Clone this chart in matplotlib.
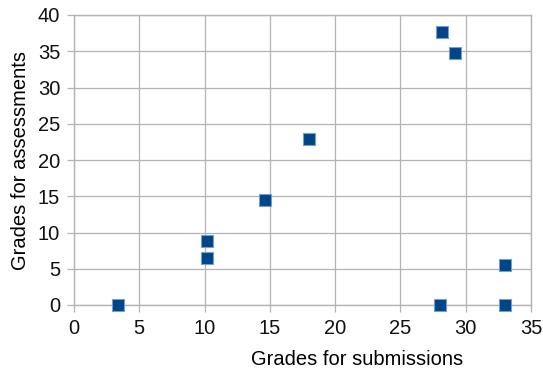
import matplotlib.pyplot as plt

# grades
submissions = [3.4, 10.2, 10.2, 14.6, 18.0, 28.2, 29.2, 28.0, 33.0, 33.0]
assessments = [0.0, 8.8, 6.5, 14.5, 22.9, 37.6, 34.8, 0.0, 5.5, 0.0]

x_ticks = [0, 5, 10, 15, 20, 25, 30, 35]
y_ticks = [0, 5, 10, 15, 20, 25, 30, 35, 40]

GRID = "#b3b3b3"
MARKER = "#004586"

plt.rcParams["font.family"] = ["Liberation Sans", "DejaVu Sans"]

fig = plt.figure(figsize=(5.43, 3.74), dpi=100, facecolor="white")
ax = fig.add_axes([74 / 543, 1 - 305 / 374, 457 / 543, 290 / 374])

ax.scatter(submissions, assessments, marker="s", s=85, c=MARKER,
           edgecolors="#729fcf", linewidths=0.8, zorder=3, clip_on=False)

ax.set_xlim(0, 35)
ax.set_ylim(0, 40)
ax.set_xticks(x_ticks)
ax.set_yticks(y_ticks)
ax.grid(True, color=GRID, lw=0.9)
ax.set_axisbelow(True)
for sp in ax.spines.values():
    sp.set_color(GRID)
    sp.set_linewidth(1.0)
ax.tick_params(colors=GRID, labelcolor="#111111", labelsize=14.5,
               length=5, width=0.9, pad=5)

ax.set_xlabel("Grades for submissions", fontsize=14.5)
ax.xaxis.set_label_coords(0.62, -0.155)
ax.set_ylabel("Grades for assessments", fontsize=14.5)
ax.yaxis.set_label_coords(-0.097, 0.5)

fig.savefig("out.png", dpi=100, facecolor="white")
